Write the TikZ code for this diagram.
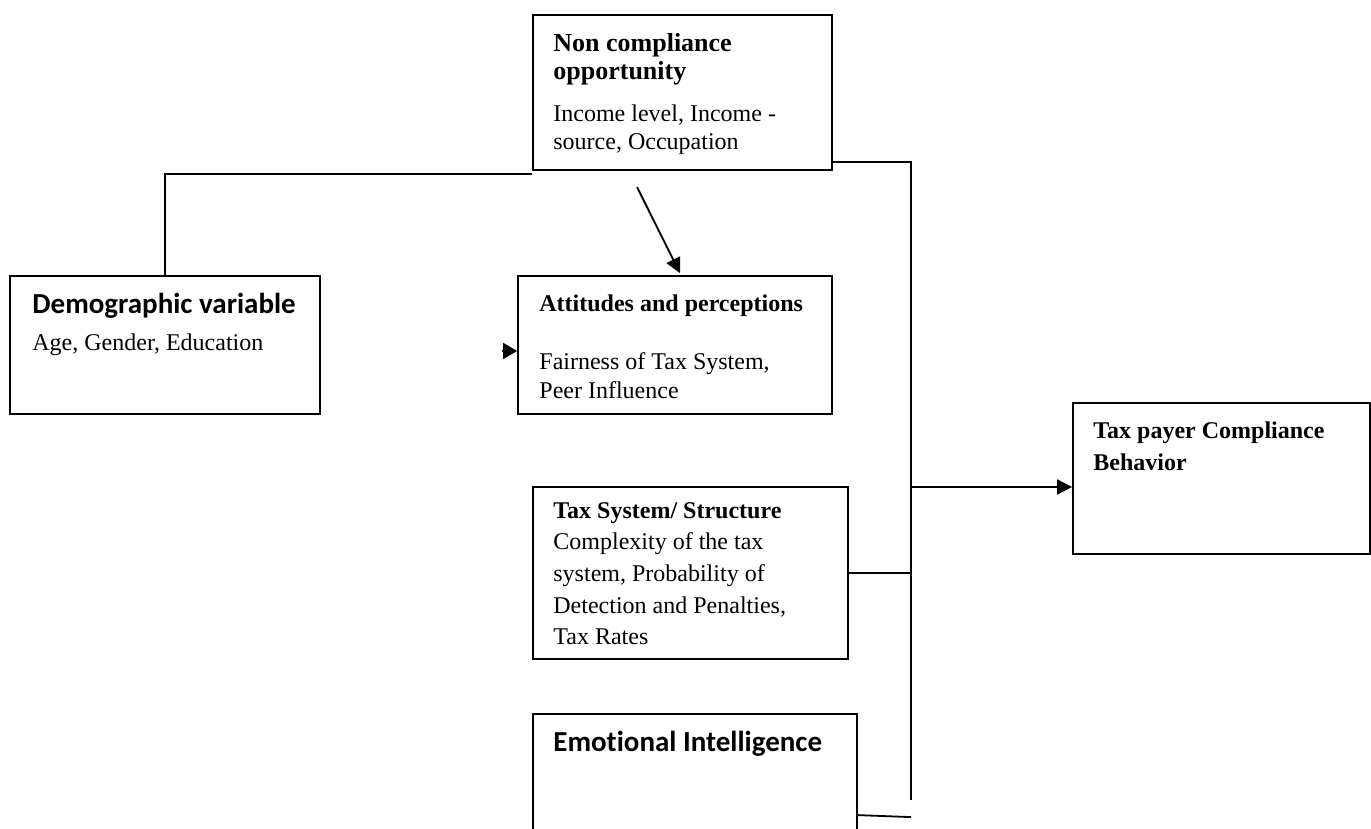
\documentclass[tikz,border=0pt]{standalone}
\usepackage{fontspec}
\setmainfont{Liberation Serif}
\newfontfamily\calibrifont[Ligatures=NoCommon]{Carlito}
\newcommand\sanshead[1]{{\calibrifont\bfseries\fontsize{14.5}{17}\selectfont #1}}
\newcommand\bighead[1]{{\fontsize{13}{14}\selectfont\bfseries #1}}
\usetikzlibrary{arrows.meta,fit}
\begin{document}
\begin{tikzpicture}[x=0.5pt, y=-0.5pt,
		box/.style={draw, line width=0.9pt, inner sep=0pt},
		txt/.style={anchor=north west, inner sep=0pt, align=left},
		spacing/.style={font=\fontsize{12}{#1}\selectfont},
		link/.style={line width=0.9pt},
		arr/.style={line width=0.9pt, -{Triangle[length=7.5pt, width=7.5pt]}},
	]
	\clip (0,0) rectangle (1371,829);
	% boxes
	\node[box, fit={(533,15) (832,170)}] (nc) {};
	\node[box, fit={(10,276) (320,414)}] (demo) {};
	\node[box, fit={(518,276) (832,414)}] (atd) {};
	\node[box, fit={(533,487) (848,659)}] (ts) {};
	\node[box, fit={(533,714) (857,845)}] (emo) {};
	\node[box, fit={(1073,403) (1370,554)}] (tp) {};
	% texts
	\node[txt, spacing=14pt] (ncT) at (553,33)
		{\bighead{Non compliance}\\\bighead{opportunity}\\[7pt]Income level, Income -\\source, Occupation};
	\node[txt, spacing=18.5pt] (demoT) at (32,293)
		{\sanshead{Demographic variable}\\Age, Gender, Education};
	\node[txt, spacing=14.5pt] (atdT) at (539,294)
		{\textbf{Attitudes and perceptions}\\[14.5pt]Fairness of Tax System,\\Peer Influence};
	\node[txt, spacing=15.8pt] (tsT) at (553,502)
		{\textbf{Tax System/ Structure}\\Complexity of the tax\\system, Probability of\\Detection and Penalties,\\Tax Rates};
	\node[txt] (emoT) at (553,731) {\sanshead{Emotional Intelligence}};
	\node[txt, spacing=16pt] (tpT) at (1093,421)
		{\textbf{Tax payer Compliance}\\\textbf{Behavior}};
	% connectors
	\coordinate (busTop) at (911,162);
	\coordinate (busMid) at (911,487);
	\coordinate (busBot) at (911,800);
	\coordinate (ncArr) at (637,187);
	\coordinate (atdArr) at (502,351);
	\draw[link] (demo.north) |- ([yshift=-1.5pt]nc.south west);
	\draw[link] (nc.south east |- busTop) -- (busTop) -- (busBot);
	\draw[link] (ts.east) -- (ts.east -| busTop);
	\draw[link] ([yshift=-51pt]emo.north east) -- ([yshift=-52pt]emo.north east -| busTop);
	\draw[arr] (busMid) -- (busMid -| tp.west);
	\draw[arr] (ncArr) -- ([xshift=2.5pt, yshift=1pt]atd.north);
	\draw[arr, -{Triangle[length=7pt, width=8pt]}] (atdArr) -- (atd.west |- atdArr);
\end{tikzpicture}
\end{document}
